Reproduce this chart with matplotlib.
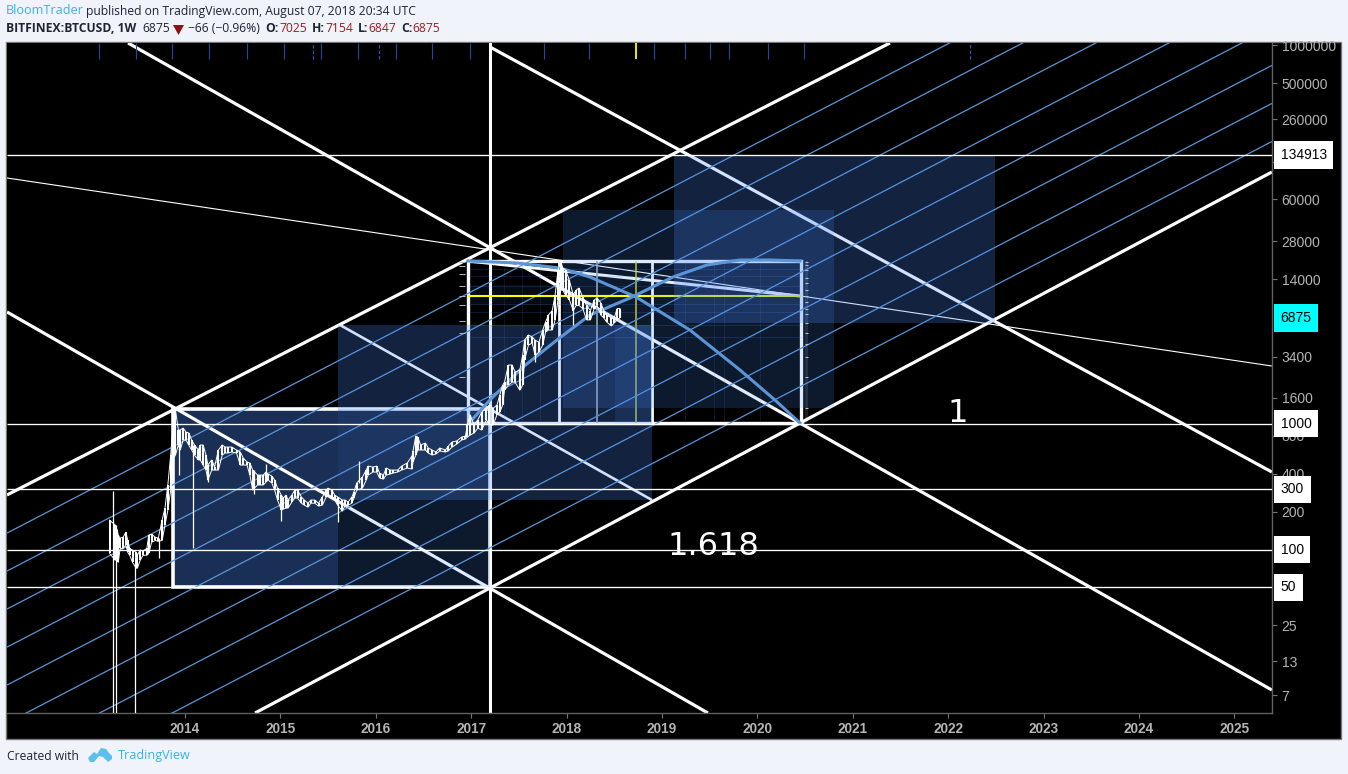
import matplotlib
matplotlib.use("Agg")
import matplotlib.pyplot as plt
from matplotlib.patches import Rectangle, Polygon
from matplotlib.ticker import FixedLocator, FixedFormatter, NullLocator

# ---------- data ----------
bar_years = [2013.21,2013.27,2013.29,2013.30,2013.32,2013.35,2013.38,2013.40,2013.42,2013.45,2013.49,2013.50,2013.53,2013.56,2013.60,2013.62,2013.65,2013.69,2013.72,2013.76,2013.79,2013.82,2013.85,2013.87,2013.90,2013.93,2013.95,2013.98,
2014.01,2014.04,2014.07,2014.10,2014.14,2014.16,2014.19,2014.22,2014.24,2014.28,2014.31,2014.35,2014.39,2014.42,2014.45,2014.49,2014.54,2014.58,2014.61,2014.65,2014.68,2014.71,2014.76,2014.79,2014.82,2014.85,2014.87,2014.91,2014.94,2014.97,
2015.01,2015.03,2015.06,2015.08,2015.12,2015.15,2015.18,2015.22,2015.25,2015.29,2015.32,2015.36,2015.40,2015.44,2015.48,2015.50,2015.54,2015.57,2015.60,2015.65,2015.68,2015.71,2015.75,2015.77,2015.80,2015.86,2015.90,2015.92,2015.97,
2016.01,2016.04,2016.08,2016.11,2016.15,2016.18,2016.23,2016.27,2016.33,2016.38,2016.39,2016.42,2016.44,2016.47,2016.52,2016.55,2016.59,2016.63,2016.67,2016.73,2016.76,2016.80,2016.85,2016.90,2016.94,2016.96,2016.99,
2017.03,2017.07,2017.11,2017.16,2017.19,2017.23,2017.27,2017.30,2017.33,2017.35,2017.39,2017.43,2017.46,2017.51,2017.54,2017.56,2017.60,2017.64,2017.67,2017.71,2017.75,2017.78,2017.81,2017.85,2017.88,2017.91,2017.94,2017.96,2017.99,
2018.03,2018.07,2018.10,2018.13,2018.17,2018.21,2018.25,2018.29,2018.32,2018.36,2018.39,2018.42,2018.47,2018.50,2018.53,2018.56]
bar_high = [171,156,142,130,123,125,137,118,102,99,95,90,99,97,102,130,132,125,123,171,213,325,562,888,1280,888,888,920,
856,841,739,675,616,675,675,562,468,513,451,616,675,650,650,650,616,594,532,495,486,427,390,390,390,412,397,383,356,307,
270,256,270,247,270,296,296,261,247,233,247,247,233,261,296,307,296,270,261,247,247,238,261,285,337,376,427,459,451,
459,404,390,443,427,427,427,459,486,552,605,795,781,675,700,639,616,594,639,616,660,713,727,781,795,973,1170,
973,1070,1230,1320,1400,1320,1400,1680,2020,2130,2910,2910,2560,2660,3480,4590,5040,4860,4590,4420,5520,6400,7260,7880,10470,16530,19480,17150,16530,
13650,10470,11460,11890,10090,8640,7880,9560,9910,9050,7880,7260,6890,6890,8170,8170]
bar_low = [93,82,90,79,102,102,108,95,90,79,71,71,82,90,90,93,114,118,116,118,156,205,296,513,562,675,616,739,
739,675,616,562,513,513,468,427,356,427,427,427,562,583,583,594,583,468,468,468,390,296,325,325,325,343,356,337,296,247,
205,209,213,213,238,256,256,233,225,217,233,233,221,225,261,270,261,247,225,202,225,225,233,256,296,307,356,390,412,
412,369,362,390,397,404,412,427,443,435,495,562,616,616,616,583,562,572,605,594,605,650,688,739,753,781,810,
841,920,888,1070,973,973,1170,1230,1400,1840,2020,2130,2130,1840,2020,3190,4190,4350,3480,3690,4190,5320,5520,5520,6640,9560,11460,11460,10470,
9560,7880,8640,8640,8170,6640,6640,8170,8640,7260,6890,6400,5940,6280,6640,6890]

wick_years = [2013.24,2013.28,2013.48,2013.73,2013.94,2014.08,2014.24,2014.72,2014.85,2015.01,2015.60,2015.82,2017.67,2018.07]
wick_high  = [291,156,76,123,888,675,468,427,477,270,261,504,4590,10470]
wick_low   = [5.04,5.04,5.04,85,390,102,343,278,412,168,165,337,3080,6050]

level_prices = [134913, 1000, 300, 100, 50]
level_labels = ["134913", "1000", "300", "100", "50"]
last_price = 6875

price_ticks = [1000000,500000,260000,120000,60000,28000,14000,3400,1600,800,400,200,25,13,7]
year_ticks = list(range(2014, 2026))

# diagonal lines: (year0, price0, year1, price1)
thick_lines = [(2012.134,271,2021.39,1047000),(2014.734,5.04,2025.394,99100),
               (2013.403,1047000,2025.394,7.67),(2017.197,973000,2025.394,412),
               (2012.134,7674,2019.482,5.04)]
medium_line = (2015.625,6050,2018.895,247)
thin_line = (2012.134,88800,2025.394,2860)
fan_line = (2016.966,19480,2020.447,10280)

# parallel channel lines
channel_start = [135,67.5,33.7,16.8,8.4,4.2,2.09,1.05]
channel_end   = [22390000,11170000,5580000,2787000,1392000,695000,347000,173000]
channel_x = (2012.134, 2025.394)

pivot_year = 2017.197
box_a = (2013.874, 2017.197, 50, 1303)
box_b = (2016.966, 2020.457, 1009, 19480)
box_b_dividers = [2017.92, 2018.319, 2018.895]
yellow_year = 2018.728
yellow_price = 10280

# translucent zones: year0, year1, price0, price1, alpha
zone_under = [(2013.874,2015.604,50,1303,0.34)]
zones_over = [(2015.604,2018.895,247,6050,0.25),(2015.604,2017.197,50,1303,0.18),
              (2017.962,2020.803,1327,49500,0.18),(2019.126,2022.491,6275,134913,0.25),
              (2018.507,2018.895,1009,6050,0.12),(2016.966,2017.962,8780,12560,0.08)]

grid_years = [2017.34,2017.53,2017.72,2019.24,2019.55,2019.65,2020.03]
grid_prices = [16800,14800,12300,8900,7700,6100,4900]

arc_up_years = [2016.987,2017.197,2017.543,2017.899,2018.245,2018.665,2019.115,2019.472,2019.818,2020.13,2020.447]
arc_up_prices = [1028,1537,2807,4600,7262,9908,14540,18110,19840,19840,19490]
arc_down_years = [2016.966,2017.48,2017.931,2018.245,2018.728,2019.293,2019.818,2020.184,2020.447]
arc_down_prices = [19490,18790,17140,14540,10090,5520,2658,1537,1009]

ladder_right = [19130,18110,16530,14170,13000,11460,10280,9230,8170,7400,6280,5210,4270,3370,2340,1327]
ladder_left = [19130,17800,15280,12320,10280,8730,6500,5250,2340]

top_marks = [2013.10,2013.49,2013.86,2014.25,2014.65,2015.04,2015.43,2015.81,2016.21,2016.59,2016.99,2017.76,2018.24,2018.92,2019.24,2019.50,2019.70,2020.11,2020.49]
top_marks_dashed = [2015.34,2016.03,2022.23]

# ---------- figure ----------
W, H = 1348, 774
fig = plt.figure(figsize=(W/100, H/100), dpi=100, facecolor="#f0f3fa")
def fx(p): return p / W
def fy(p): return 1 - p / H
fig.patches.append(Rectangle((fx(6), fy(739)), 1335/W, 697/H, transform=fig.transFigure,
                             facecolor="black", edgecolor="#787878", lw=1.0, zorder=-5))
ax = fig.add_axes([fx(7), fy(713), 1265/W, 670/H], facecolor="black")
ax.set_yscale("log")
ax.set_xlim(2012.134, 2025.395)
ax.set_ylim(5.04, 1046600)
for s in ("left", "top"):
    ax.spines[s].set_visible(False)
for s in ("right", "bottom"):
    ax.spines[s].set_color("#606060")
    ax.spines[s].set_linewidth(1.0)

WHITE = "white"
BLUE = "#5a96d6"
FILL = "#4c8cfc"

def seg(t, **kw):
    ax.plot([t[0], t[2]], [t[1], t[3]], solid_capstyle="butt", **kw)

def zone(z, zo):
    ax.fill_between([z[0], z[1]], z[2], z[3], facecolor=FILL, alpha=z[4], lw=0, zorder=zo)

for z in zone_under:
    zone(z, 1)
for z in zones_over:
    zone(z, 3)

# channel lines
for a, b in zip(channel_start, channel_end):
    seg((channel_x[0], a, channel_x[1], b), color=BLUE, lw=0.9, zorder=2.6)

# gann diagonals
for t in thick_lines:
    seg(t, color=WHITE, lw=2.3, zorder=2)
seg(medium_line, color=WHITE, lw=1.9, zorder=2)
seg(thin_line, color=WHITE, lw=0.8, zorder=2)
seg(fan_line, color=WHITE, lw=2.2, zorder=2)
ax.axvline(pivot_year, color=WHITE, lw=2.2, zorder=2)

# boxes
ax.add_patch(Rectangle((box_a[0], box_a[2]), box_a[1]-box_a[0], box_a[3]-box_a[2],
                       fill=False, ec=WHITE, lw=2.6, zorder=2))
ax.add_patch(Rectangle((box_b[0], box_b[2]), box_b[1]-box_b[0], box_b[3]-box_b[2],
                       fill=False, ec=WHITE, lw=2.4, zorder=2))
ax.vlines(box_b_dividers[0], box_b[2], box_b[3], color=WHITE, lw=2.0, zorder=2)
ax.vlines(box_b_dividers[1], box_b[2], box_b[3], color="#a8a8a8", lw=1.2, zorder=2)
ax.vlines(box_b_dividers[2], box_b[2], box_b[3], color=WHITE, lw=2.0, zorder=2)

# faint inner grid
ax.vlines(grid_years, box_b[2], box_b[3], color=FILL, lw=0.6, alpha=0.16, zorder=2.2)
ax.hlines(grid_prices, box_b[0], box_b[1], color=FILL, lw=0.6, alpha=0.22, zorder=2.2)

# yellow cross
ax.hlines(yellow_price, box_b_dividers[2], box_b[1], color="#ffff00", lw=1.5, zorder=2.3)
ax.hlines(yellow_price, box_b[0], box_b_dividers[2], color="#ffff00", lw=1.5, zorder=3.2)
ax.vlines(yellow_year, box_b[2], box_b[3], color="#d8d830", lw=1.4, alpha=0.75, zorder=2.3)

# arcs
ax.plot(arc_up_years, arc_up_prices, color="#5b95d8", lw=2.2, zorder=3.5)
ax.plot(arc_down_years, arc_down_prices, color="#5b95d8", lw=2.2, zorder=3.5)

# ladders
ax.fill_between([2020.50, 2020.53], box_b[2], box_b[3], color="#ffffff", alpha=0.12, lw=0, zorder=2.4)
ax.hlines(ladder_right, 2020.50, 2020.53, color="#c8c8c8", lw=0.7, zorder=3.6)
ax.hlines(ladder_left, 2016.87, 2016.93, color="#bbbbbb", lw=0.7, zorder=3.6)

# level lines
ax.hlines(level_prices, 2012.134, 2025.395, color=WHITE, lw=0.95, zorder=4)

# price bars
ax.vlines(wick_years, wick_low, wick_high, color=WHITE, lw=0.9, zorder=5)
ax.vlines(bar_years, bar_low, bar_high, color=WHITE, lw=1.5, zorder=6)
ax.plot(bar_years, bar_high, color=WHITE, lw=0.7, zorder=6)
ax.plot(bar_years, bar_low, color=WHITE, lw=0.7, zorder=6)

# top markers
ax.vlines(top_marks, 781000, 1046600, color="#1c4aa0", lw=0.8, zorder=2)
ax.vlines(top_marks_dashed, 781000, 1046600, color="#2a5fc8", lw=0.8, linestyles=(0, (3, 2)), zorder=2)
ax.vlines(yellow_year, 781000, 1046600, color="#ffff00", lw=1.3, zorder=2)

# annotations
ax.text(2019.535, 106, "1.618", color=WHITE, fontsize=23, ha="center", va="center", family="DejaVu Sans", zorder=7)
ax.text(2022.10, 1190, "1", color=WHITE, fontsize=23, ha="center", va="center", family="DejaVu Sans", zorder=7)

# axes ticks
ax.yaxis.tick_right()
ax.yaxis.set_major_locator(FixedLocator(price_ticks))
ax.yaxis.set_major_formatter(FixedFormatter([str(p) for p in price_ticks]))
ax.yaxis.set_minor_locator(NullLocator())
ax.tick_params(axis="y", which="major", length=3.5, width=0.8, color="#777777",
               labelcolor="#b4b4b4", labelsize=10, pad=3.5)
for lab in ax.get_yticklabels():
    lab.set_family("Liberation Sans")
ax.set_xticks(year_ticks)
ax.set_xticklabels([str(y) for y in year_ticks], family="Liberation Sans", weight="bold",
                   fontsize=9.8, color="#b4b4b4")
ax.tick_params(axis="x", length=3.5, width=0.8, color="#777777", pad=3)

# price flags
trans = ax.get_yaxis_transform()
for p, lab in zip(level_prices, level_labels):
    ax.annotate(lab, (1, p), xycoords=trans, xytext=(6.2, 0), textcoords="offset points",
                fontsize=10, family="Liberation Sans", color="black", va="center", ha="left",
                bbox=dict(boxstyle="square,pad=0.48", fc="white", ec="none"), zorder=9, annotation_clip=False)
ax.annotate(str(last_price), (1, last_price), xycoords=trans, xytext=(6.2, 0), textcoords="offset points",
            fontsize=10, family="Liberation Sans", color="black", va="center", ha="left",
            bbox=dict(boxstyle="square,pad=0.48", fc="#00ffff", ec="none"), zorder=9, annotation_clip=False)

# header
HF = dict(family="Open Sans", fontsize=8.7, va="center", ha="left")
DARK, RED, LINK = "#1f2430", "#a8161c", "#3ab2e6"
fig.text(fx(6), fy(11), "BloomTrader", color=LINK, family="Open Sans", fontsize=9.1, va="center", ha="left")
fig.text(fx(86), fy(11), "published on TradingView.com, August 07, 2018 20:34 UTC", color=DARK, **HF)
fig.text(fx(6), fy(29), "BITFINEX:BTCUSD, 1W", color=DARK, weight="bold", **HF)
fig.text(fx(142), fy(29), "6875", color=DARK, **HF)
fig.patches.append(Polygon([(fx(173), fy(25)), (fx(184), fy(25)), (fx(178.5), fy(35))],
                           transform=fig.transFigure, facecolor="#8b1414", edgecolor="none"))
fig.text(fx(188), fy(29), "\u221266 (\u22120.96%)", color=DARK, **HF)
for x, lab in ((265, "O:"), (312, "H:"), (358, "L:"), (401, "C:")):
    fig.text(fx(x), fy(29), lab, color=DARK, weight="bold", **HF)
for x, lab in ((279, "7025"), (325, "7154"), (368, "6847"), (412, "6875")):
    fig.text(fx(x), fy(29), lab, color=RED, **HF)

# footer
fig.text(fx(7), fy(756), "Created with", color=DARK, **HF)
fig.text(fx(118), fy(756), "TradingView", color=LINK, family="Open Sans", fontsize=9.1, va="center", ha="left")
logo1 = [(88, 758), (94, 752), (97, 754), (101, 748), (106, 749), (109, 753), (112, 756), (112, 759), (108, 762), (103, 757), (99, 756), (94, 762), (90, 762)]
fig.patches.append(Polygon([(fx(a), fy(b)) for a, b in logo1], transform=fig.transFigure,
                           facecolor="#5bc0eb", edgecolor="none"))

fig.savefig("out.png", dpi=100, facecolor=fig.get_facecolor())
